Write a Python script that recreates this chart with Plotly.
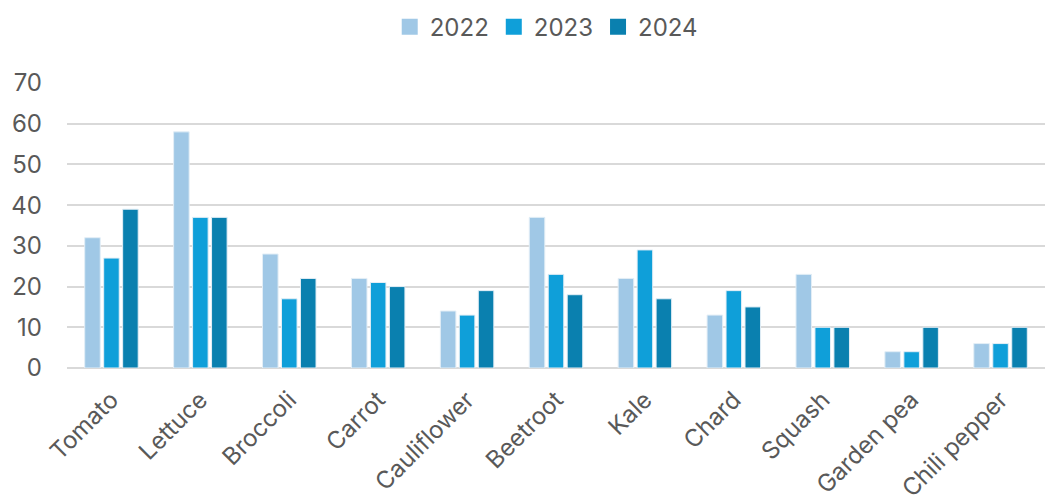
import plotly.graph_objects as go

categories = ["Tomato", "Lettuce", "Broccoli", "Carrot", "Cauliflower", "Beetroot",
              "Kale", "Chard", "Squash", "Garden pea", "Chili pepper"]
y2022 = [32, 58, 28, 22, 14, 37, 22, 13, 23, 4, 6]
y2023 = [27, 37, 17, 21, 13, 23, 29, 19, 10, 4, 6]
y2024 = [39, 37, 22, 20, 19, 18, 17, 15, 10, 10, 10]
series_names = ["2022", "2023", "2024"]
colors = ["#A0C8E6", "#0F9FD9", "#0A80AF"]

fig = go.Figure()
for name, vals, col in zip(series_names, [y2022, y2023, y2024], colors):
    fig.add_trace(go.Bar(
        x=categories, y=vals, name=name, showlegend=False, legendgroup=name,
        marker=dict(color=col, line=dict(color="#E3EEF6", width=1)),
    ))
# legend entries with square swatches
for name, col in zip(series_names, colors):
    fig.add_trace(go.Scatter(
        x=[None], y=[None], mode="markers", name=name, legendgroup=name,
        marker=dict(symbol="square", size=16, color=col),
    ))

font_family = "Inter, Open Sans, sans-serif"
fig.update_layout(
    width=1048, height=503,
    margin=dict(l=67, r=3, t=83, b=135, autoexpand=False),
    paper_bgcolor="white", plot_bgcolor="white",
    barmode="group", bargap=0.36, bargroupgap=0.18,
    font=dict(family=font_family, color="#595959", size=24),
    legend=dict(orientation="h", x=0.49, xanchor="center", y=1.196, yanchor="middle",
                font=dict(size=24, color="#595959"), itemwidth=30,
                traceorder="normal"),
    xaxis=dict(tickangle=-45, showgrid=False, showline=False, ticks="",
               ticklabelstandoff=12, automargin=False,
               tickfont=dict(size=24, color="#595959")),
    yaxis=dict(range=[0, 70], dtick=10, showgrid=True, gridcolor="#D9D9D9", gridwidth=1.5,
               zeroline=True, zerolinecolor="#D9D9D9", zerolinewidth=1.5,
               showline=False, ticks="", ticklabelstandoff=24, automargin=False,
               tickfont=dict(size=24, color="#595959")),
)

fig.write_html("out.html")
